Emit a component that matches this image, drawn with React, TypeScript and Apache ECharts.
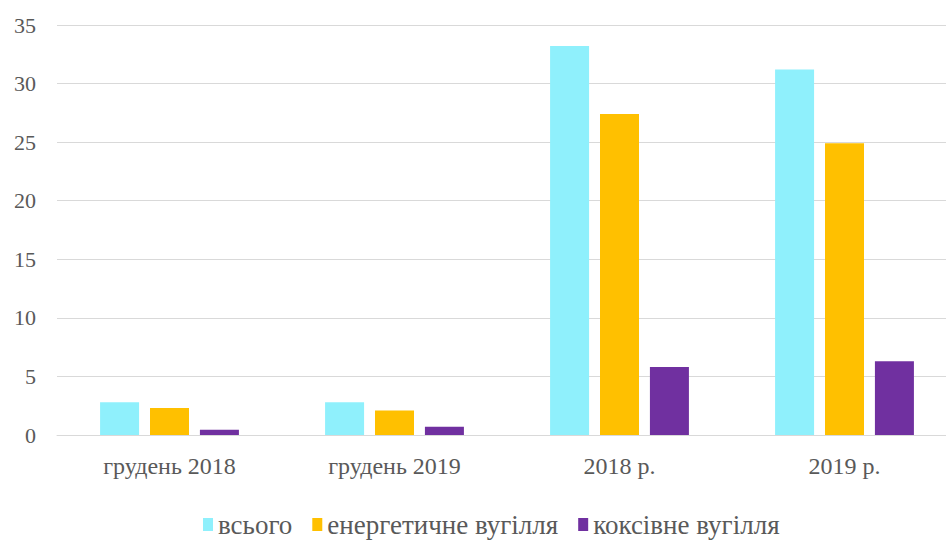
import React, { useEffect, useRef } from "react";
import * as echarts from "echarts";

const categories = ["грудень 2018", "грудень 2019", "2018 р.", "2019 р."];
const seriesNames = ["всього", "енергетичне вугілля", "коксівне вугілля"];
const totalValues = [2.8, 2.8, 33.2, 31.2];
const energyValues = [2.3, 2.1, 27.4, 24.9];
const cokingValues = [0.45, 0.7, 5.8, 6.3];
const colors = ["#8FF0FC", "#FFC000", "#7030A0"];

export default function App() {
  const ref = useRef<HTMLDivElement>(null);
  useEffect(() => {
    if (!ref.current) return;
    const chart = echarts.init(ref.current, null, { renderer: "svg" });
    const font = "Liberation Serif";
    const data = [totalValues, energyValues, cokingValues];
    chart.setOption({
      animation: false,
      backgroundColor: "#ffffff",
      textStyle: { fontFamily: font },
      grid: { left: 57, right: 0, top: 25, bottom: 105 },
      legend: {
        top: 506,
        left: 198,
        itemWidth: 10,
        itemHeight: 13,
        itemGap: 20,
        icon: "rect",
        textStyle: { fontFamily: font, fontSize: 27, color: "#595959" },
        data: seriesNames,
      },
      xAxis: {
        type: "category",
        data: categories,
        axisLine: { lineStyle: { color: "#D9D9D9", width: 1 } },
        axisTick: { show: false },
        axisLabel: { fontFamily: font, fontSize: 24, color: "#595959", margin: 19 },
      },
      yAxis: {
        type: "value",
        min: 0,
        max: 35,
        interval: 5,
        axisLine: { show: false },
        axisTick: { show: false },
        splitLine: { lineStyle: { color: "#D9D9D9", width: 1 } },
        axisLabel: { fontFamily: font, fontSize: 22, color: "#595959", margin: 21 },
      },
      series: seriesNames.map((name, i) => ({
        name,
        type: "bar",
        data: data[i],
        barWidth: 39,
        barGap: "28%",
        itemStyle: { color: colors[i] },
      })),
    });
    return () => chart.dispose();
  }, []);
  return (
    <div
      style={{
        position: "fixed",
        left: 0,
        top: 0,
        width: 946,
        height: 540,
        overflow: "hidden",
        background: "#ffffff",
      }}
    >
      <div ref={ref} style={{ width: 957, height: 540 }} />
    </div>
  );
}
